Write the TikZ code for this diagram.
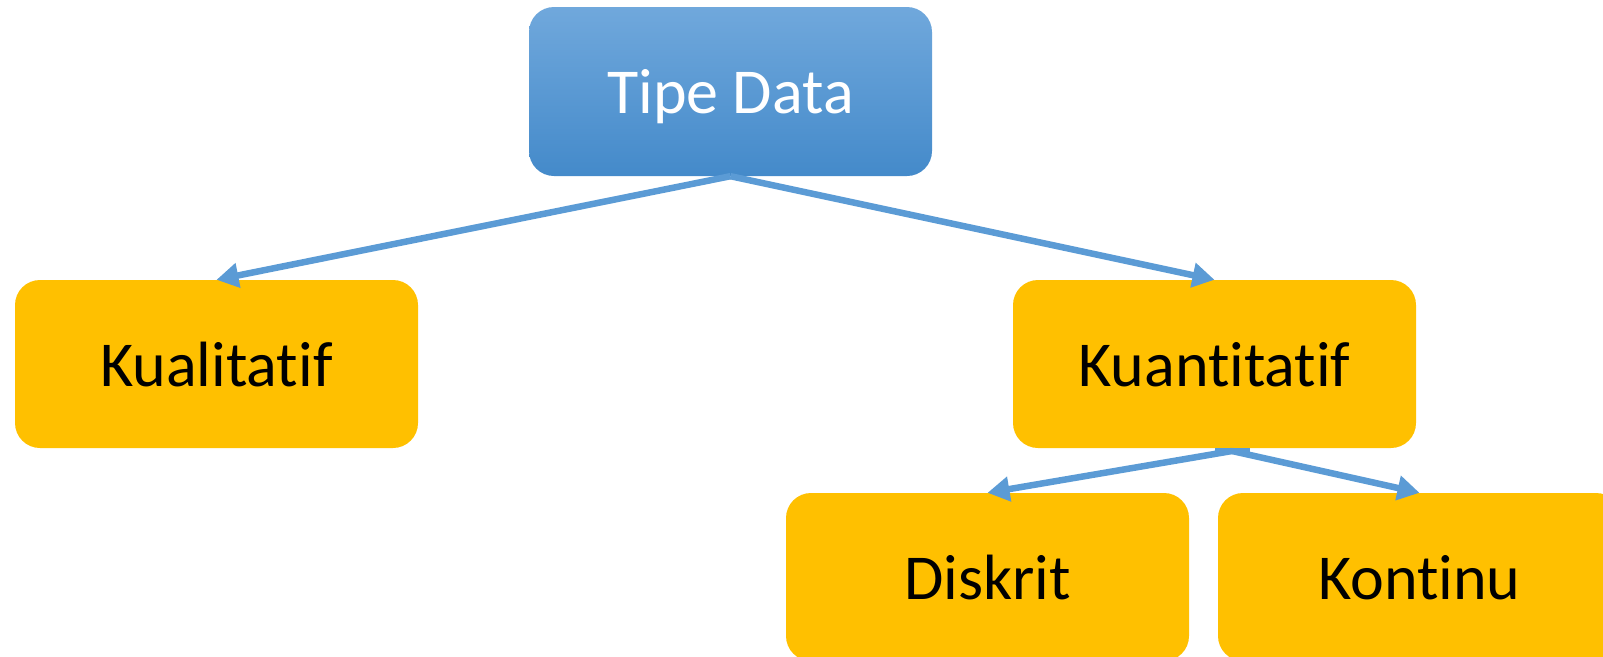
\documentclass[tikz,border=0pt]{standalone}
\usepackage{fontspec}
\setmainfont[Ligatures=NoCommon]{Carlito}
\usetikzlibrary{arrows.meta}
\definecolor{gold}{RGB}{255,192,0}
\definecolor{conblue}{RGB}{91,155,213}
\definecolor{topblue}{RGB}{112,168,220}
\definecolor{botblue}{RGB}{68,138,202}
\begin{document}
\begin{tikzpicture}[x=1pt,y=-1pt,
  box/.style={rectangle, rounded corners=25pt, minimum width=403pt, minimum height=168pt, inner sep=0pt, text height=44pt, text depth=0pt, font=\fontsize{64pt}{76pt}\selectfont},
  leaf/.style={box, fill=gold, text=black},
  root/.style={box, top color=topblue, bottom color=botblue, text=white, minimum height=169pt},
  conn/.style={draw=conblue, line width=6.5pt, -{Triangle[length=22pt,width=24pt]}}]
\useasboundingbox (0,0) rectangle (1603,656);
\clip (0,0) rectangle (1603,656);
\node[root] (tipe) at (730.5,91.5) {Tipe Data};
\node[leaf] (kual) at (216.5,364) {Kualitatif};
\node[leaf] (kuan) at (1214.5,364) {Kuantitatif};
\node[leaf] (disk) at (987.5,577) {Diskrit};
\node[leaf] (kont) at (1419.5,577) {Kontinu};
\coordinate (q) at (1232,451);
\fill[conblue] (1215,448) rectangle (1250,453);
\draw[conn] (tipe.south) -- (kual.north);
\draw[conn] (tipe.south) -- (kuan.north);
\draw[conn] (q) -- (disk.north);
\draw[conn] (q) -- (kont.north);
\end{tikzpicture}
\end{document}
